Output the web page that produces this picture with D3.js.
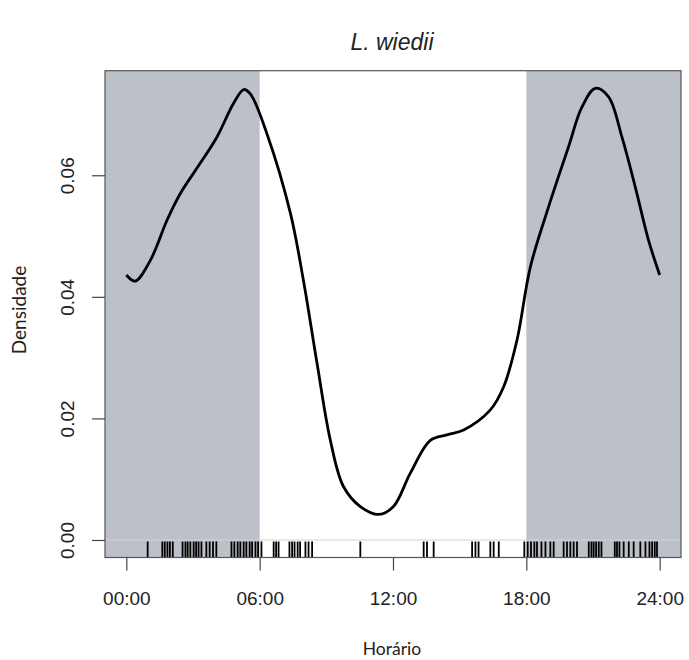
<!DOCTYPE html>
<html>
<head>
<meta charset="utf-8">
<script src="https://cdn.jsdelivr.net/npm/d3@7"></script>
<style>
  body { margin: 0; background: #fff; }
  svg { display: block; }
</style>
</head>
<body>
<script>
// density curve (hour, density)
var curveHours = [0, 0.4, 1.08, 1.83, 2.43, 3.33, 4.08, 4.82, 5.28, 5.58, 6.33, 7.38, 7.97,
  8.58, 9.18, 9.77, 10.53, 11.35, 12.02, 12.78, 13.68, 14.43, 15.18, 16.38, 16.98, 17.58,
  18.18, 19.0, 19.9, 20.5, 21.1, 21.7, 22.3, 22.9, 23.5, 24];
var curveDensity = [0.0436, 0.0426, 0.0460, 0.0526, 0.0570, 0.0620, 0.0663, 0.0718, 0.0741,
  0.0734, 0.0668, 0.0538, 0.0427, 0.0291, 0.0164, 0.0088, 0.0055, 0.0042, 0.0055, 0.0110,
  0.0164, 0.0173, 0.0181, 0.0214, 0.0252, 0.0329, 0.0449, 0.0548, 0.0647, 0.0712, 0.0743,
  0.0729, 0.0663, 0.0581, 0.0493, 0.0436];

// records (rug)
var records = [0.96, 1.62, 1.73, 1.85, 1.96, 2.09, 2.53, 2.66, 2.76, 2.88, 3.03, 3.14, 3.25,
  3.38, 3.60, 3.75, 3.90, 4.05, 4.73, 4.86, 5.01, 5.13, 5.28, 5.40, 5.55, 5.66, 5.81, 5.93,
  6.08, 6.63, 6.74, 6.85, 7.34, 7.46, 7.57, 7.71, 7.82, 8.06, 8.20, 8.36, 10.53, 13.38,
  13.53, 13.83, 15.56, 15.71, 15.85, 16.38, 16.53, 16.76, 17.91, 18.06, 18.21, 18.36, 18.48,
  18.68, 18.86, 19.08, 19.23, 19.68, 19.83, 19.98, 20.13, 20.28, 20.81, 20.93, 21.03, 21.14,
  21.26, 21.38, 21.98, 22.08, 22.19, 22.38, 22.61, 22.83, 23.13, 23.36, 23.54, 23.66, 23.78,
  23.88];

var xTicks = [0, 6, 12, 18, 24];
var xTickLabels = ['00:00', '06:00', '12:00', '18:00', '24:00'];
var yTicks = [0, 0.02, 0.04, 0.06];
var nightSpans = [[-0.96, 6], [18, 24.96]];

var width = 689, height = 660;

var x = d3.scaleLinear().domain([-0.96, 24.96]).range([105, 681]);
var y = d3.scaleLinear().domain([-0.00288, 0.0772]).range([557.5, 70.7]);

var svg = d3.select('body').append('svg')
  .attr('width', width)
  .attr('height', height);

// night shading
svg.selectAll('rect.night')
  .data(nightSpans)
  .enter().append('rect')
  .attr('class', 'night')
  .attr('x', d => x(d[0]))
  .attr('width', d => x(d[1]) - x(d[0]))
  .attr('y', y(0.0772))
  .attr('height', y(-0.00288) - y(0.0772))
  .attr('fill', '#bcc0c8');

// zero line
svg.append('line')
  .attr('x1', x(-0.96)).attr('x2', x(24.96))
  .attr('y1', y(0)).attr('y2', y(0))
  .attr('stroke', '#d4d4d4')
  .attr('stroke-width', 1.2);

// rug
svg.selectAll('line.rug')
  .data(records)
  .enter().append('line')
  .attr('class', 'rug')
  .attr('x1', d => x(d)).attr('x2', d => x(d))
  .attr('y1', y(0) + 1.5).attr('y2', y(-0.00288))
  .attr('stroke', '#000')
  .attr('stroke-width', 1.8);

// density line
var line = d3.line()
  .x((d, i) => x(curveHours[i]))
  .y(d => y(d))
  .curve(d3.curveCatmullRom.alpha(0.5));

svg.append('path')
  .datum(curveDensity)
  .attr('d', line)
  .attr('fill', 'none')
  .attr('stroke', '#000')
  .attr('stroke-width', 2.8);

// box
svg.append('rect')
  .attr('x', x(-0.96)).attr('y', y(0.0772))
  .attr('width', x(24.96) - x(-0.96))
  .attr('height', y(-0.00288) - y(0.0772))
  .attr('fill', 'none')
  .attr('stroke', '#555')
  .attr('stroke-width', 1.2);

// x axis
var xAxis = svg.append('g')
  .attr('transform', 'translate(0,' + y(-0.00288) + ')')
  .call(d3.axisBottom(x).tickValues(xTicks)
    .tickFormat((d, i) => xTickLabels[i])
    .tickSize(13).tickPadding(21));
xAxis.select('.domain').remove();

// y axis
var yAxis = svg.append('g')
  .attr('transform', 'translate(' + x(-0.96) + ',0)')
  .call(d3.axisLeft(y).tickValues(yTicks)
    .tickFormat(d3.format('.2f'))
    .tickSize(13).tickPadding(10));
yAxis.select('.domain').remove();

svg.selectAll('.tick line').attr('stroke', '#444').attr('stroke-width', 1.2);
svg.selectAll('.tick text')
  .attr('fill', '#222')
  .style('font-family', '"Liberation Sans", Arial, sans-serif')
  .style('font-size', '19px');

yAxis.selectAll('.tick text')
  .attr('x', 0)
  .attr('y', 0)
  .attr('dy', '0')
  .attr('transform', 'translate(-31,0) rotate(-90)')
  .attr('text-anchor', 'middle');

// titles
svg.append('text')
  .attr('x', 392).attr('y', 50)
  .attr('text-anchor', 'middle')
  .style('font-family', '"Liberation Sans", Arial, sans-serif')
  .style('font-style', 'italic')
  .style('font-size', '23px')
  .attr('fill', '#222')
  .text('L. wiedii');

svg.append('text')
  .attr('x', 392).attr('y', 655)
  .attr('text-anchor', 'middle')
  .style('font-family', 'Lato, "Open Sans", sans-serif')
  .style('font-size', '17.5px')
  .attr('fill', '#222')
  .text('Horário');

svg.append('text')
  .attr('transform', 'translate(26,310) rotate(-90)')
  .attr('text-anchor', 'middle')
  .style('font-family', 'Lato, "Open Sans", sans-serif')
  .style('font-size', '19px')
  .attr('fill', '#222')
  .text('Densidade');
</script>
</body>
</html>
